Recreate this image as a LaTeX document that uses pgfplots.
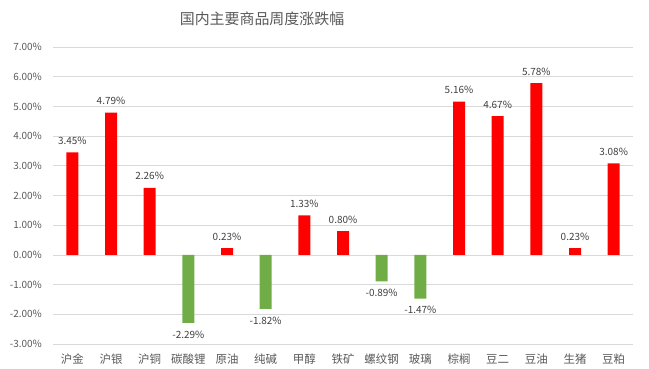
\documentclass[border=0pt]{standalone}
\usepackage{pgfplots}
\pgfplotsset{compat=1.18}
\usepackage{fontspec}
\setmainfont{Noto Sans CJK SC}
\definecolor{barred}{HTML}{FF0000}
\definecolor{bargreen}{HTML}{70AD47}
\definecolor{txt}{HTML}{595959}
\definecolor{lbl}{HTML}{404040}
\definecolor{gridc}{HTML}{D9D9D9}
\begin{document}
\begin{tikzpicture}[x=1bp,y=1bp]
\path[use as bounding box] (0,0) rectangle (649,368);
\node[text=txt, font=\fontsize{15}{18}\selectfont] at (262,349) {国内主要商品周度涨跌幅};
\begin{axis}[at={(53bp,24bp)}, anchor=south west, scale only axis,
  width=580bp, height=297bp,
  ybar, bar width=12bp,
  xmin=-0.5, xmax=14.5, ymin=-3, ymax=7, ytick={-3,-2,...,7},
  xtick={0,...,14},
  xticklabels={沪金,沪银,沪铜,碳酸锂,原油,纯碱,甲醇,铁矿,螺纹钢,玻璃,棕榈,豆二,豆油,生猪,豆粕},
  ymajorgrids, grid style={gridc, line width=0.8bp},
  axis line style={draw=none}, major tick length=0pt,
  /pgf/number format/assume math mode=true,
  yticklabel={\pgfmathprintnumber[fixed,fixed zerofill,precision=2]{\tick}\%},
  yticklabel style={text=txt, font=\fontsize{10}{12}\selectfont, anchor=east, inner sep=0pt, xshift=-11bp},
  xticklabel style={text=txt, font=\fontsize{11.5}{13}\selectfont, anchor=north, inner sep=0pt, yshift=-10bp},
  point meta=y,
  nodes near coords={\pgfmathprintnumber[fixed,fixed zerofill,precision=2]{\pgfplotspointmeta}\%},
  nodes near coords style={text=lbl, font=\fontsize{10}{12}\selectfont, inner sep=7.5bp},
  clip=false,
]
\addplot[fill=barred, draw=none, bar shift=0pt] coordinates {
  (0,3.45) (1,4.79) (2,2.26) (4,0.23) (6,1.33) (7,0.80) (10,5.16) (11,4.67) (12,5.78) (13,0.23) (14,3.08)};
\addplot[fill=bargreen, draw=none, bar shift=0pt] coordinates {
  (3,-2.29) (5,-1.82) (8,-0.89) (9,-1.47)};
\end{axis}
\end{tikzpicture}
\end{document}
